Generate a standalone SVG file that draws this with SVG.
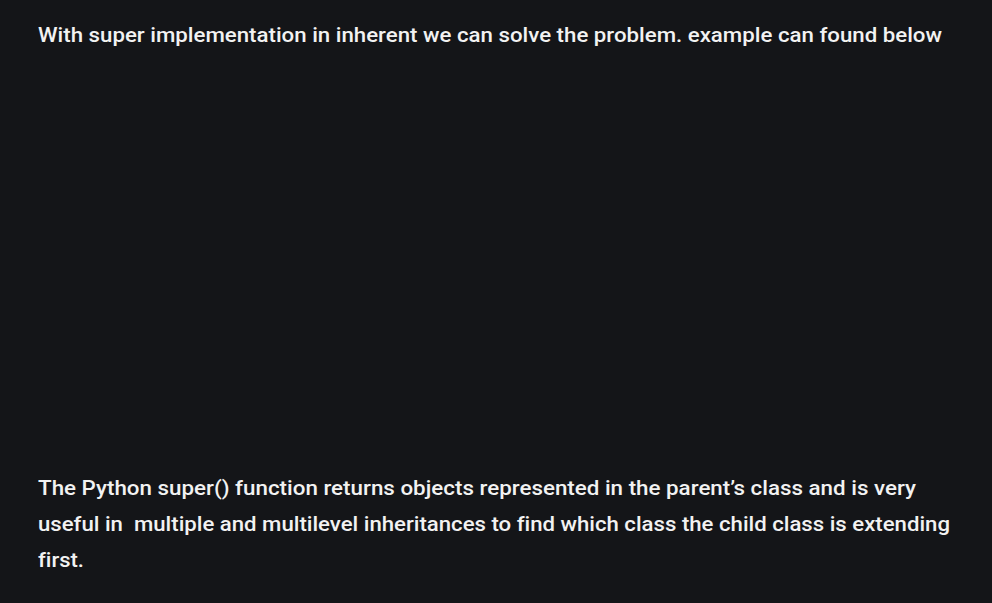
<svg xmlns="http://www.w3.org/2000/svg" width="992" height="603" viewBox="0 0 992 603">
<style>
.t{font-family:"Roboto","Liberation Sans",sans-serif;font-size:20px;font-weight:500;fill:#f2f2f2;font-variant-ligatures:none;white-space:pre;}
</style>
<rect width="992" height="603" fill="#141518"/>
<g id="intro">
<text class="t" x="38" y="42" textLength="904" lengthAdjust="spacingAndGlyphs">With super implementation in inherent we can solve the problem. example can found below</text>
</g>
<g id="explanation">
<text class="t" x="38" y="495" textLength="878" lengthAdjust="spacingAndGlyphs">The Python super() function returns objects represented in the parent’s class and is very</text>
<text class="t" x="38" y="531" textLength="912" lengthAdjust="spacingAndGlyphs" xml:space="preserve">useful in  multiple and multilevel inheritances to find which class the child class is extending</text>
<text class="t" x="38" y="567" textLength="46" lengthAdjust="spacingAndGlyphs">first.</text>
</g>
</svg>
